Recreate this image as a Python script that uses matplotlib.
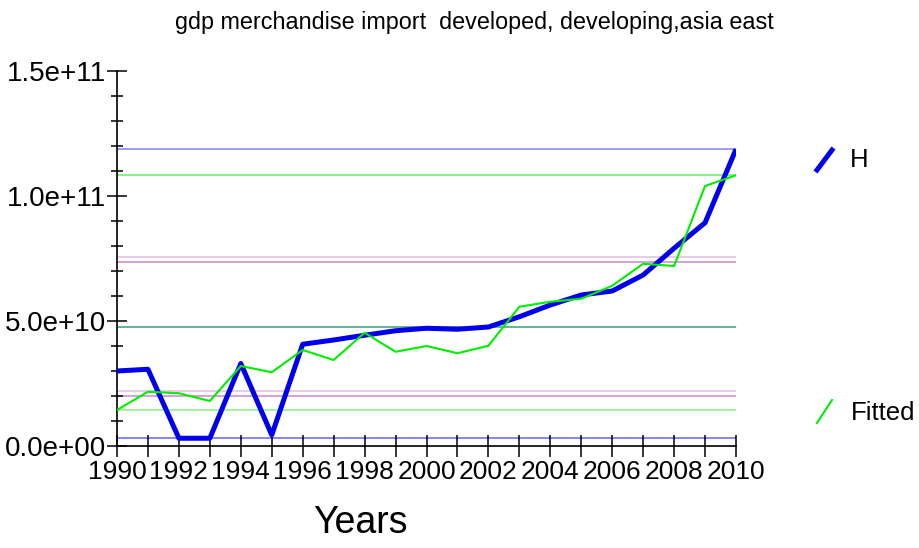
import numpy as np
import matplotlib.pyplot as plt
from matplotlib.lines import Line2D
from matplotlib.ticker import MultipleLocator, FuncFormatter

# --- data ---
years = np.arange(1990, 2011)
h_vals = np.array([3.00, 3.07, 0.31, 0.31, 3.30, 0.44, 4.07, 4.24, 4.43, 4.61, 4.71,
                   4.67, 4.76, 5.17, 5.64, 6.04, 6.20, 6.84, 7.91, 8.93, 11.87]) * 1e10
fitted_vals = np.array([1.44, 2.17, 2.11, 1.80, 3.20, 2.95, 3.84, 3.44, 4.53, 3.77, 4.00,
                        3.71, 4.01, 5.57, 5.77, 5.89, 6.41, 7.29, 7.20, 10.40, 10.83]) * 1e10

# reference lines (max / min / mean / mean +- sd)
ref_levels = np.array([11.88, 10.83, 7.57, 7.36, 4.77, 2.21, 2.00, 1.44, 0.31]) * 1e10
ref_colors = ['#8080ff', '#66ee66', '#e0bce0', '#cc88cc', '#3aa07a',
              '#e0bce0', '#cc88cc', '#88f088', '#6060ff']

title = "gdp merchandise import  developed, developing,asia east"
font = ['Liberation Sans', 'DejaVu Sans']

fig = plt.figure(figsize=(9.2, 5.48), dpi=100)
ax = fig.add_axes([117 / 920, 1 - 446 / 548, (736 - 117) / 920, (446 - 71) / 548])

for lvl, c in zip(ref_levels, ref_colors):
    ax.axhline(lvl, color=c, lw=1.1, zorder=1)

ax.plot(years, h_vals, color='#0000ee', lw=3.6, zorder=3, solid_capstyle='butt')
ax.plot(years, fitted_vals, color='#00ee00', lw=1.5, zorder=4)

ax.set_xlim(1990, 2010)
ax.set_ylim(0, 1.5e11)

for s in ['top', 'right']:
    ax.spines[s].set_visible(False)
ax.spines['left'].set_linewidth(1.2)
ax.spines['bottom'].set_linewidth(1.2)

ax.xaxis.set_major_locator(MultipleLocator(1))
ax.xaxis.set_major_formatter(FuncFormatter(lambda v, p: f"{int(round(v))}" if int(round(v)) % 2 == 0 else ""))
ax.yaxis.set_major_locator(MultipleLocator(5e10))
ax.yaxis.set_minor_locator(MultipleLocator(1e10))
ax.yaxis.set_major_formatter(FuncFormatter(lambda v, p: "0.0e+00" if v == 0 else f"{v:.1e}"))

ax.tick_params(axis='x', which='major', direction='inout', length=16, width=1.1, pad=2)
ax.tick_params(axis='y', which='major', direction='inout', length=14, width=1.1, pad=1)
ax.tick_params(axis='y', which='minor', direction='inout', length=9, width=1.1)
for lab in ax.get_xticklabels():
    lab.set_family(font)
    lab.set_fontsize(19)
for lab in ax.get_yticklabels():
    lab.set_family(font)
    lab.set_fontsize(20)

fig.text(474 / 920, 1 - 22 / 548, title, ha='center', va='center', family=font, fontsize=16.8)
fig.text(360 / 920, 1 - 523 / 548, "Years", ha='center', va='center', family=font, fontsize=27)

# legend glyphs on the right
fig.add_artist(Line2D([817 / 920, 832 / 920], [1 - 170 / 548, 1 - 150 / 548], color='#0000ee', lw=3.6))
fig.text(850 / 920, 1 - 160 / 548, "H", ha='left', va='center', family=font, fontsize=18.5)
fig.add_artist(Line2D([817 / 920, 832 / 920], [1 - 423 / 548, 1 - 400 / 548], color='#00ee00', lw=1.5))
fig.text(851 / 920, 1 - 413 / 548, "Fitted", ha='left', va='center', family=font, fontsize=18.5)

fig.savefig("out.png", dpi=100)
